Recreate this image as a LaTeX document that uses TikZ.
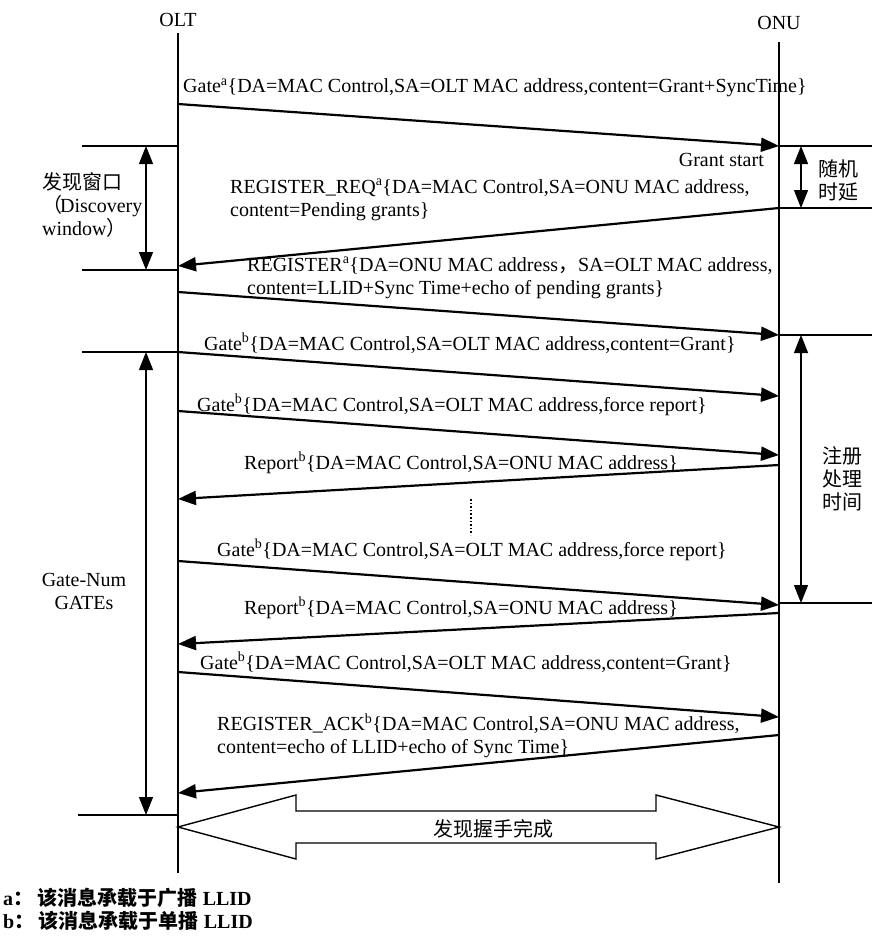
\documentclass[tikz,border=0pt]{standalone}
\usepackage{fontspec}
\setmainfont{Liberation Serif}
\newfontfamily\cjk{Noto Sans CJK SC}
\usetikzlibrary{arrows.meta, positioning}

\begin{document}
\begin{tikzpicture}[
    x=1pt, y=-1pt,
    >={Triangle[length=18pt,width=14pt]},
    every node/.style={font=\fontsize{20}{23}\selectfont, inner sep=0pt},
    life/.style={line width=1.3pt},
    msg/.style={->, line width=2.2pt},
    bound/.style={line width=2pt},
    span/.style={<->, line width=1.1pt},
    lbl/.style={anchor=west, align=left}
]
\useasboundingbox (0,0) rectangle (872,938);

% lifelines
\node (olt) at (178,20) {OLT};
\node (onu) at (779,23) {ONU};
\coordinate (olttop) at (178,33);
\coordinate (onutop) at (779,42);
\coordinate (oltend) at (178,873);
\coordinate (onuend) at (779,883);
\draw[life] (olttop) -- (oltend);
\draw[life] (onutop) -- (onuend);

% message end points
\coordinate (a1) at (178,104); \coordinate (b1) at (779,146);
\coordinate (b2) at (779,208); \coordinate (a2) at (178,266);
\coordinate (a3) at (178,292); \coordinate (b3) at (779,335);
\coordinate (a4) at (178,352); \coordinate (b4) at (779,396);
\coordinate (a5) at (178,411); \coordinate (b5) at (779,455);
\coordinate (b6) at (779,465); \coordinate (a6) at (178,499);
\coordinate (a7) at (178,561); \coordinate (b7) at (779,605);
\coordinate (b8) at (779,613); \coordinate (a8) at (178,644);
\coordinate (a9) at (178,672); \coordinate (b9) at (779,717);
\coordinate (b10) at (779,735); \coordinate (a10) at (178,793);

\draw[msg] (a1) -- (b1);
\draw[msg] (b2) -- (a2);
\draw[msg] (a3) -- (b3);
\draw[msg] (a4) -- (b4);
\draw[msg] (a5) -- (b5);
\draw[msg] (b6) -- (a6);
\draw[msg] (a7) -- (b7);
\draw[msg] (b8) -- (a8);
\draw[msg] (a9) -- (b9);
\draw[msg] (b10) -- (a10);

% message labels
\node[lbl] (l1) at (183,88) {Gate\textsuperscript{a}\{DA=MAC Control,SA=OLT MAC address,content=Grant+SyncTime\}};
\node[lbl] (l2) at (230,200) {REGISTER\_REQ\textsuperscript{a}\{DA=MAC Control,SA=ONU MAC address,\\content=Pending grants\}};
\node[lbl] (l3) at (247,278) {REGISTER\textsuperscript{a}\{DA=ONU MAC address{\cjk ，}SA=OLT MAC address,\\content=LLID+Sync Time+echo of pending grants\}};
\node[lbl] (l4) at (204,343) {Gate\textsuperscript{b}\{DA=MAC Control,SA=OLT MAC address,content=Grant\}};
\node[lbl] (l5) at (197,405) {Gate\textsuperscript{b}\{DA=MAC Control,SA=OLT MAC address,force report\}};
\node[lbl] (l6) at (244,463) {Report\textsuperscript{b}\{DA=MAC Control,SA=ONU MAC address\}};
\node[lbl] (l7) at (217,550) {Gate\textsuperscript{b}\{DA=MAC Control,SA=OLT MAC address,force report\}};
\node[lbl] (l8) at (244,608) {Report\textsuperscript{b}\{DA=MAC Control,SA=ONU MAC address\}};
\node[lbl] (l9) at (200,662) {Gate\textsuperscript{b}\{DA=MAC Control,SA=OLT MAC address,content=Grant\}};
\node[lbl] (l10) at (217,736) {REGISTER\_ACK\textsuperscript{b}\{DA=MAC Control,SA=ONU MAC address,\\content=echo of LLID+echo of Sync Time\}};

% dots between the report rounds
\coordinate (dtop) at (471,499);
\coordinate (dbot) at (471,535);
\draw[dotted, line width=1.6pt] (dtop) -- (dbot);

% boundary lines
\coordinate (lw1) at (82,146);  \draw[bound] (lw1) -- (178,146);
\coordinate (lw2) at (82,270);  \draw[bound] (lw2) -- (178,270);
\coordinate (lw3) at (82,352);  \draw[bound] (lw3) -- (a4);
\coordinate (lw4) at (78,815);  \draw[bound] (lw4) -- (178,815);
\coordinate (re1) at (872,146); \draw[bound] (b1) -- (re1);
\coordinate (re2) at (872,208); \draw[bound] (b2) -- (re2);
\coordinate (re3) at (872,335); \draw[bound] (b3) -- (re3);
\coordinate (re4) at (872,603); \draw[bound] (779,603) coordinate (r4) -- (re4);

% time spans
\coordinate (dw1) at (146,146); \coordinate (dw2) at (146,270);
\coordinate (gn1) at (146,352); \coordinate (gn2) at (146,815);
\coordinate (rd1) at (801,146); \coordinate (rd2) at (801,208);
\coordinate (rp1) at (801,335); \coordinate (rp2) at (801,603);
\draw[span] (dw1) -- (dw2);
\draw[span] (gn1) -- (gn2);
\draw[span] (rd1) -- (rd2);
\draw[span] (rp1) -- (rp2);

\node[lbl] (dwin) at (42,205) {\cjk 发现窗口\\{\cjk （}\kern-2pt Discovery\\window{\cjk ）}};
\node[anchor=east] (gstart) at (764,160) {Grant start};
\node[lbl] (rdelay) at (818,180) {\cjk 随机\\\cjk 时延};
\node[lbl] (rproc) at (822,479) {\cjk 注册\\\cjk 处理\\\cjk 时间};
\node[align=center] (gnum) at (84,591) {Gate-Num\\GATEs};

% handshake done
\draw[line width=1.4pt] (178,827) -- (296,795) -- (296,811) -- (656,811) -- (656,795)
    -- (779,827) -- (656,859) -- (656,843) -- (296,843) -- (296,859) -- cycle;
\node (hs) at (493,829) {\cjk 发现握手完成};

% notes
\node[anchor=west] (na) at (3,898) {\bfseries a{\cjk\bfseries ： 该消息承载于广播} LLID};
\node[anchor=west] (nb) at (3,921) {\bfseries b{\cjk\bfseries ： 该消息承载于单播} LLID};

\end{tikzpicture}
\end{document}
